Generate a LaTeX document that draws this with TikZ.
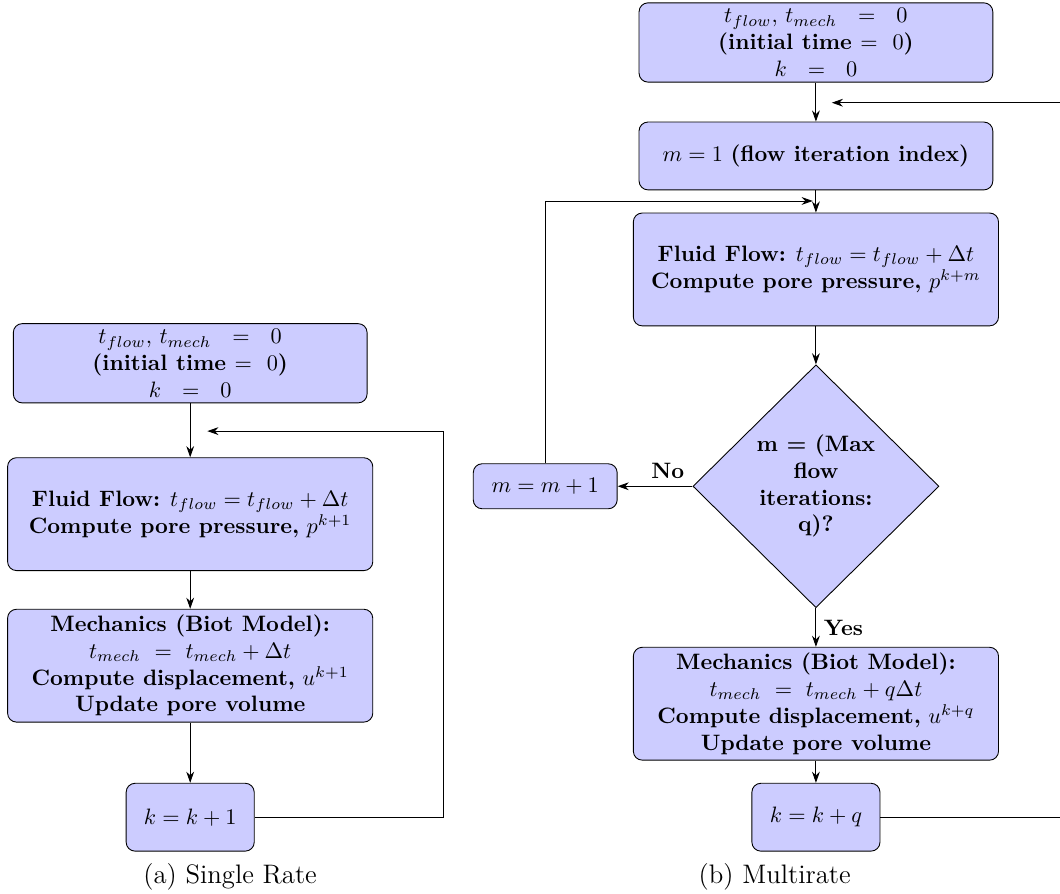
\documentclass[tikz,border=0pt]{standalone}
\usetikzlibrary{shapes.geometric,arrows.meta}

\tikzset{
  procbox/.style={rectangle, rounded corners, draw=black, fill=blue!20, align=center, inner sep=2pt},
  decbox/.style={diamond, draw=black, fill=blue!20, align=center, inner sep=0pt, font=\bfseries},
  flowarrow/.style={-{Stealth[length=5pt,width=3.5pt]}},
}

\begin{document}
\begin{tikzpicture}
    \useasboundingbox (0,0) rectangle (16.72,14.10);

    \newcommand{\LX}{3.0}
    \newcommand{\RX}{12.87}

    % (a) single rate
    \node[procbox, minimum width=5.58cm, minimum height=1.25cm] (initL) at (\LX,8.37)
    {$t_{flow},\, t_{mech}\ \ =\ \ 0$\\ \textbf{(initial time $=\ 0$)}\\ $k\ \ =\ \ 0$};
    \node[procbox, minimum width=5.76cm, minimum height=1.78cm] (flowL) at (\LX,5.99)
    {\textbf{Fluid Flow:} $t_{flow} = t_{flow} + \Delta t$\\ \textbf{Compute pore pressure,} $p^{k+1}$};
    \node[procbox, minimum width=5.76cm, minimum height=1.78cm] (mechL) at (\LX,3.60)
    {\textbf{Mechanics (Biot Model):}\\ $t_{mech}\ =\ t_{mech} + \Delta t$\\
    \textbf{Compute displacement,} $u^{k+1}$\\ \textbf{Update pore volume}};
    \node[procbox, minimum width=2.02cm, minimum height=1.07cm] (kL) at (\LX,1.21) {$k = k + 1$};
    \node[font=\large] (capL) at (3.63,0.27) {(a) Single Rate};

    \coordinate (cornerL) at (6.99,7.30);
    \coordinate (loopL) at (3.27,7.30);

    \draw[flowarrow] (initL) -- (flowL);
    \draw[flowarrow] (flowL) -- (mechL);
    \draw[flowarrow] (mechL) -- (kL);
    \draw[flowarrow] (kL.east) -| (cornerL) -- (loopL);

    % (b) multirate
    \node[procbox, minimum width=5.58cm, minimum height=1.25cm] (initR) at (\RX,13.43)
    {$t_{flow},\, t_{mech}\ \ =\ \ 0$\\ \textbf{(initial time $=\ 0$)}\\ $k\ \ =\ \ 0$};
    \node[procbox, minimum width=5.58cm, minimum height=1.07cm] (mOne) at (\RX,11.64)
    {$m = 1$ \textbf{(flow iteration index)}};
    \node[procbox, minimum width=5.76cm, minimum height=1.78cm] (flowR) at (\RX,9.85)
    {\textbf{Fluid Flow:} $t_{flow} = t_{flow} + \Delta t$\\ \textbf{Compute pore pressure,} $p^{k+m}$};
    \node[decbox, minimum width=3.88cm, minimum height=3.83cm] (maxIt) at (\RX,6.43)
    {m = (Max\\ flow\\ iterations:\\ q)?};
    \node[procbox, minimum width=2.27cm, minimum height=0.71cm] (mInc) at (8.60,6.43) {$m = m + 1$};
    \node[procbox, minimum width=5.76cm, minimum height=1.78cm] (mechR) at (\RX,3.00)
    {\textbf{Mechanics (Biot Model):}\\ $t_{mech}\ =\ t_{mech} + q\Delta t$\\
    \textbf{Compute displacement,} $u^{k+q}$\\ \textbf{Update pore volume}};
    \node[procbox, minimum width=2.02cm, minimum height=1.07cm] (kR) at (\RX,1.21) {$k = k + q$};
    \node[font=\large] (capR) at (12.22,0.27) {(b) Multirate};

    \coordinate (cornerR) at (16.95,12.48);
    \coordinate (loopR) at (13.12,12.48);
    \coordinate (loopM) at (12.82,10.93);

    \draw[flowarrow] (initR) -- (mOne);
    \draw[flowarrow] (mOne) -- (flowR);
    \draw[flowarrow] (flowR) -- (maxIt);
    \draw[flowarrow] (maxIt.west) -- node[above, pos=0.33, font=\bfseries] {No} (mInc.east);
    \draw[flowarrow] (mInc.north) |- (loopM);
    \draw[flowarrow] (maxIt.south) -- node[right, font=\bfseries] {Yes} (mechR.north);
    \draw[flowarrow] (mechR) -- (kR);
    \draw[flowarrow] (kR.east) -| (cornerR) -- (loopR);

\end{tikzpicture}
\end{document}
